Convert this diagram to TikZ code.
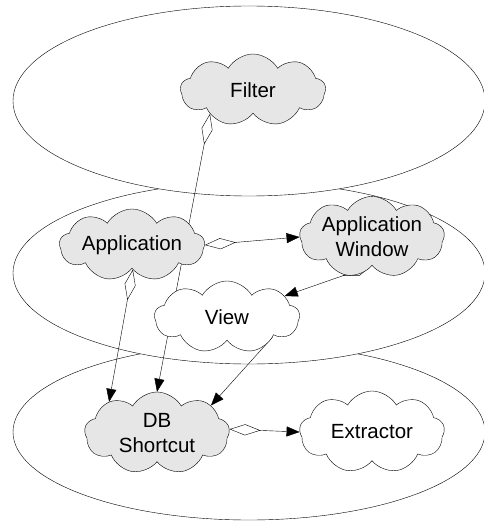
\documentclass[tikz,border=0pt]{standalone}
\usepackage{fontspec}
\setmainfont{Liberation Sans}
\usetikzlibrary{shapes.symbols,arrows.meta}
\definecolor{cloudgray}{HTML}{E6E6E6}
\pgfdeclarelayer{planes}
\pgfdeclarelayer{links}
\pgfsetlayers{planes,links,main}

\begin{document}
\begin{tikzpicture}[x=1pt,y=-1pt,line width=0.65pt,
    blob/.style={cloud, draw, cloud puffs=9, cloud puff arc=120, cloud ignores aspect,
      minimum width=145pt, minimum height=72pt, inner sep=0pt, align=center,
      font=\fontsize{20.5}{25}\selectfont},
    gblob/.style={blob, fill=cloudgray},
    wblob/.style={blob, fill=white},
    aggr/.style={{Diamond[open,length=31pt,width=11pt]}-{Triangle[length=13pt,width=10pt]}},
    link/.style={-{Triangle[length=13pt,width=10pt]}}]
			%%%%% START %%%%%
			\useasboundingbox (0,0) rectangle (483,521);

			% the three planes, lowest first
			\begin{pgfonlayer}{planes}
			\draw[fill=white] (249,432) ellipse [x radius=236pt, y radius=88pt];
			\draw[fill=white] (249,273) ellipse [x radius=236pt, y radius=91pt];
			\draw[fill=white] (249,101) ellipse [x radius=236pt, y radius=95pt];
			\end{pgfonlayer}

			\node[gblob] (filter) at (253,90) {Filter};
			\node[gblob] (app) at (132,245) {Application};
			\node[gblob] (appwin) at (372,237) {Application\\Window};
			\node[wblob] (view) at (227,317) {View};
			\node[gblob, minimum height=82pt] (dbs) at (157,433) {DB\\Shortcut};
			\node[wblob, minimum height=82pt] (extractor) at (372,432) {Extractor};

			\begin{pgfonlayer}{links}
			\draw[aggr] (filter.209) -- (dbs.90);
			\draw[aggr] (app.0) -- (appwin.180);
			\draw[aggr] (app.272) -- (dbs.147);
			\draw[aggr] (appwin.270) -- (view.20);
			\draw[link] (view.-24) -- (dbs.27);
			\draw[aggr] (dbs.3) -- (extractor.180);
			\end{pgfonlayer}
			%%%%% END %%%%%
\end{tikzpicture}
\end{document}
